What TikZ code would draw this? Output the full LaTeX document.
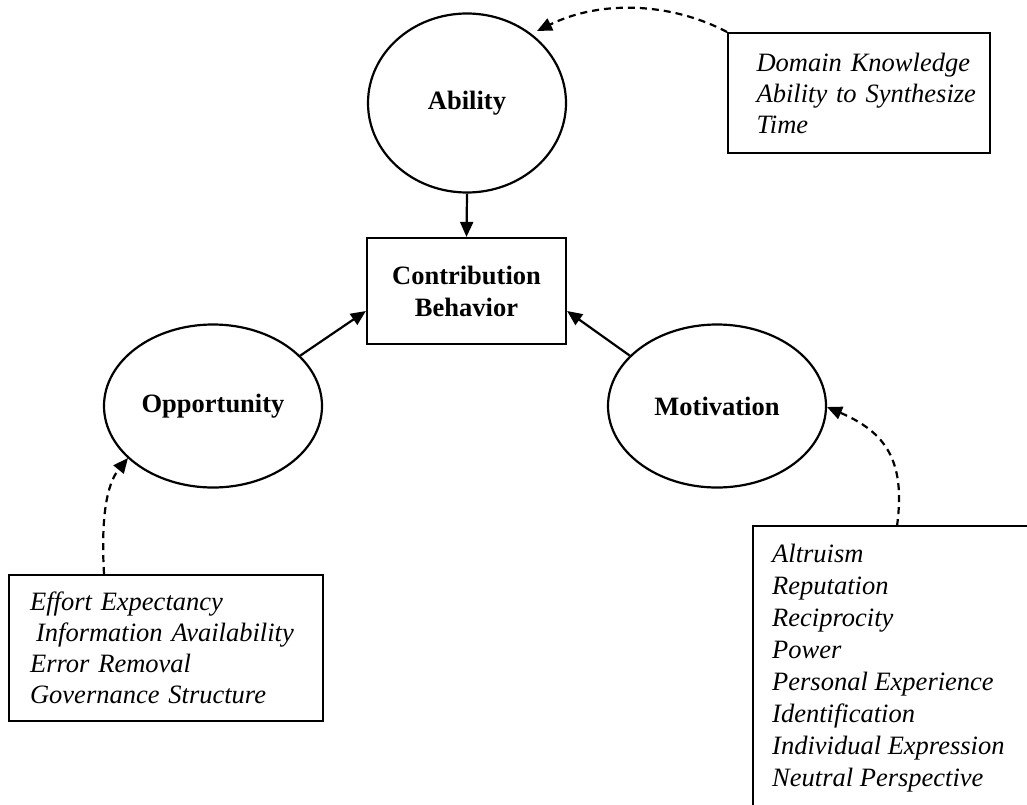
\documentclass[tikz,border=0pt]{standalone}
\usepackage{fontspec}
\setmainfont{Liberation Serif}
\usetikzlibrary{shapes.geometric,arrows.meta,calc}
\begin{document}
\begin{tikzpicture}[x=1pt,y=-1pt,
  every node/.style={inner sep=0pt},
  construct/.style={ellipse,draw,line width=2.2pt,font=\fontsize{26.5}{32}\selectfont\bfseries},
  central/.style={rectangle,draw,line width=2.2pt,align=center,font=\fontsize{26.5}{32}\selectfont\bfseries},
  factorbox/.style={rectangle,draw,line width=2.2pt,align=left,anchor=north west,font=\fontsize{26.5}{31}\selectfont\itshape},
  factortext/.style={align=left,font=\fontsize{26.5}{32}\selectfont\itshape},
  solidarrow/.style={line width=2.2pt,-{Triangle[length=15pt,width=13pt]}},
  dasharrow/.style={line width=2.2pt,dash pattern=on 7pt off 5pt,-{Triangle[length=15pt,width=13pt]}}
]
\useasboundingbox (0,0) rectangle (1027,805);
% constructs
\node[construct,minimum width=198pt,minimum height=179pt] (abil) at (467,103) {Ability};
\node[construct,minimum width=218pt,minimum height=163pt] (opp) at (213,406) {Opportunity};
\node[construct,minimum width=218pt,minimum height=163pt] (mot) at (717,406) {Motivation};
\node[central,minimum width=199pt,minimum height=106pt] (cb) at (466.5,291) {Contribution\\Behavior};
% factor boxes
\node[factorbox,minimum width=262pt,minimum height=120pt,text width=243pt,inner xsep=0pt] (abox) at (727,32) {\hspace*{19pt}Domain Knowledge\\\hspace*{19pt}Ability to Synthesize\\\hspace*{19pt}Time};
\node[factorbox,minimum width=314pt,minimum height=146pt,text width=314pt] (obox) at (8,574) {\hspace*{21pt}Effort Expectancy\\\hspace*{27pt}Information Availability\\\hspace*{21pt}Error Removal\\\hspace*{21pt}Governance Structure};
\node[factortext,anchor=north west] (mtext) at (772,544) {Altruism\\Reputation\\Reciprocity\\Power\\Personal Experience\\Identification\\Individual Expression\\Neutral Perspective};
\coordinate (mboxtl) at (753,526);
\coordinate (mboxbl) at (753,805);
\coordinate (mboxtr) at (1027,526);
\draw[line width=2.2pt] (mboxbl) -- (mboxtl) -- (mboxtr);
% solid arrows
\draw[solidarrow] (abil.south) -- (cb.north);
\draw[solidarrow] (opp.30) -- ($(cb.west)+(0,20)$);
\draw[solidarrow] (mot.150) -- ($(cb.east)+(0,20)$);
% dashed arrows
\coordinate (atip) at (537,31);
\coordinate (otip) at (128,458);
\coordinate (mtip) at (827,407);
\coordinate (mstart) at (897,526);
\coordinate (ostart) at (104,574);
\draw[dasharrow] (abox.north west) .. controls (670,2) and (600,0) .. (atip);
\draw[dasharrow] (mstart) .. controls (906,460) and (885,432) .. (mtip);
\draw[dasharrow] (ostart) .. controls (101,520) and (106,485) .. (otip);
\end{tikzpicture}
\end{document}
